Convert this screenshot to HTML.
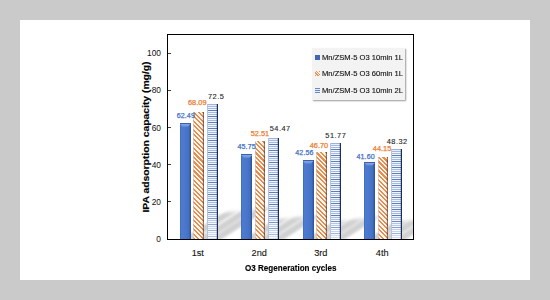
<!DOCTYPE html><html><head><meta charset="utf-8"><style>
*{margin:0;padding:0;box-sizing:border-box}
html,body{width:550px;height:300px;overflow:hidden;background:#cacaca;font-family:"Liberation Sans",sans-serif}
#card{position:absolute;left:20px;top:20px;width:510px;height:260px;background:#fff}
.a{position:absolute}
.t{position:absolute;white-space:nowrap;line-height:1}
.plot{position:absolute;left:167px;top:34px;width:247px;height:206px;border:1px solid #000}
.tick{position:absolute;left:168px;width:3px;height:1px;background:#444}
.yl{position:absolute;font-size:8.4px;color:#111;text-align:right;width:30px;line-height:1}
.bb{position:absolute;background:linear-gradient(90deg,#3a62b2 0,#4d7bd0 1px,#4a77ca 50%,#4370c2 80%,#2c4d92 100%);border-top:1px solid #3d5fa6}
.bb:before{content:"";position:absolute;left:0;right:0;top:0;height:3px;background:linear-gradient(180deg,#86a8ea,#6088d6);clip-path:polygon(0 0,100% 0,75% 100%,25% 100%)}
.ob{position:absolute;background:repeating-linear-gradient(45deg,#e98c4c 0,#e98c4c 1.5px,#fdf7f2 1.5px,#fdf7f2 3.2px);box-shadow:inset 1px 0 0 rgba(200,200,200,.6),inset -1.2px 0 0 rgba(80,55,40,.65)}
.hb{position:absolute;background:linear-gradient(180deg,rgba(255,255,255,0) 75%,rgba(255,255,255,.55) 100%),linear-gradient(180deg,#e8eef9 0,#e8eef9 2px,transparent 2px),repeating-linear-gradient(180deg,#5c7dc0 0,#5c7dc0 1px,transparent 1px,transparent 6px),repeating-linear-gradient(180deg,#a3b9e2 0,#a3b9e2 1px,#f1f5fc 1px,#f1f5fc 2px);box-shadow:inset 1px 0 0 #b7c3da,inset -1.2px 0 0 #1c2d58,inset 0 1px 0 #9fb3da}
.sh{position:absolute;background:#999;filter:blur(2px);opacity:.45;transform-origin:0 100%}
.lab{position:absolute;font-size:7.4px;line-height:1;white-space:nowrap;}
</style></head><body><div id="card"></div>
<div class="a" style="left:168px;top:35px;width:245px;height:204px;overflow:hidden">
<div class="sh" style="left:12.0px;top:177.3px;width:12px;height:28.7px;transform:skewX(-57deg)"></div>
<div class="sh" style="left:25.5px;top:174.9px;width:12px;height:31.1px;transform:skewX(-57deg)"></div>
<div class="sh" style="left:39.0px;top:173.0px;width:12px;height:33.0px;transform:skewX(-57deg)"></div>
<div class="sh" style="left:73.5px;top:184.4px;width:12px;height:21.6px;transform:skewX(-57deg)"></div>
<div class="sh" style="left:87.0px;top:181.5px;width:12px;height:24.5px;transform:skewX(-57deg)"></div>
<div class="sh" style="left:100.5px;top:180.7px;width:12px;height:25.3px;transform:skewX(-57deg)"></div>
<div class="sh" style="left:135.0px;top:185.8px;width:12px;height:20.2px;transform:skewX(-57deg)"></div>
<div class="sh" style="left:148.5px;top:184.0px;width:12px;height:22.0px;transform:skewX(-57deg)"></div>
<div class="sh" style="left:162.0px;top:181.9px;width:12px;height:24.1px;transform:skewX(-57deg)"></div>
<div class="sh" style="left:196.5px;top:186.2px;width:12px;height:19.8px;transform:skewX(-57deg)"></div>
<div class="sh" style="left:210.0px;top:185.1px;width:12px;height:20.9px;transform:skewX(-57deg)"></div>
<div class="sh" style="left:223.5px;top:183.3px;width:12px;height:22.7px;transform:skewX(-57deg)"></div>
</div>
<div class="plot"></div>
<div class="tick" style="top:201.3px"></div>
<div class="tick" style="top:164.1px"></div>
<div class="tick" style="top:126.9px"></div>
<div class="tick" style="top:89.7px"></div>
<div class="tick" style="top:52.5px"></div>
<div class="yl" style="left:131px;top:235.2px">0</div>
<div class="yl" style="left:131px;top:198.0px">20</div>
<div class="yl" style="left:131px;top:160.8px">40</div>
<div class="yl" style="left:131px;top:123.6px">60</div>
<div class="yl" style="left:131px;top:86.4px">80</div>
<div class="yl" style="left:131px;top:49.2px">100</div>
<div class="bb" style="left:179.8px;top:122.8px;width:10.8px;height:116.2px"></div>
<div class="ob" style="left:193.3px;top:112.4px;width:10.6px;height:126.6px"></div>
<div class="hb" style="left:206.7px;top:104.2px;width:11px;height:134.8px"></div>
<div class="bb" style="left:241.3px;top:153.9px;width:10.8px;height:85.1px"></div>
<div class="ob" style="left:254.8px;top:141.3px;width:10.6px;height:97.7px"></div>
<div class="hb" style="left:268.2px;top:137.7px;width:11px;height:101.3px"></div>
<div class="bb" style="left:302.8px;top:159.8px;width:10.8px;height:79.2px"></div>
<div class="ob" style="left:316.3px;top:152.1px;width:10.6px;height:86.9px"></div>
<div class="hb" style="left:329.7px;top:142.7px;width:11px;height:96.3px"></div>
<div class="bb" style="left:364.3px;top:161.6px;width:10.8px;height:77.4px"></div>
<div class="ob" style="left:377.8px;top:156.9px;width:10.6px;height:82.1px"></div>
<div class="hb" style="left:391.2px;top:149.1px;width:11px;height:89.9px"></div>
<div class="lab" style="left:176.7px;top:112.1px;color:#4472c4;-webkit-text-stroke:0.25px #4472c4;font-size:7.1px;letter-spacing:0.1px;margin-top:0.9px;">62.49</div>
<div class="lab" style="left:188.0px;top:99.4px;color:#ed7d31;-webkit-text-stroke:0.25px #ed7d31;">68.09</div>
<div class="lab" style="left:208.0px;top:92.8px;color:#222;letter-spacing:0.5px;-webkit-text-stroke:0.1px #222;">72.5</div>
<div class="lab" style="left:237.5px;top:143.3px;color:#4472c4;-webkit-text-stroke:0.25px #4472c4;font-size:7.1px;letter-spacing:0.1px;margin-top:0.9px;">45.75</div>
<div class="lab" style="left:250.7px;top:130.3px;color:#ed7d31;-webkit-text-stroke:0.25px #ed7d31;">52.51</div>
<div class="lab" style="left:269.7px;top:125.4px;color:#222;letter-spacing:0.5px;-webkit-text-stroke:0.1px #222;">54.47</div>
<div class="lab" style="left:295.3px;top:149.3px;color:#4472c4;-webkit-text-stroke:0.25px #4472c4;font-size:7.1px;letter-spacing:0.1px;margin-top:0.9px;">42.56</div>
<div class="lab" style="left:309.7px;top:142.4px;color:#ed7d31;-webkit-text-stroke:0.25px #ed7d31;">46.70</div>
<div class="lab" style="left:325.3px;top:131.6px;color:#222;letter-spacing:0.5px;-webkit-text-stroke:0.1px #222;">51.77</div>
<div class="lab" style="left:356.5px;top:153.0px;color:#4472c4;-webkit-text-stroke:0.25px #4472c4;font-size:7.1px;letter-spacing:0.1px;margin-top:0.9px;">41.60</div>
<div class="lab" style="left:372.8px;top:145.1px;color:#ed7d31;-webkit-text-stroke:0.25px #ed7d31;">44.15</div>
<div class="lab" style="left:386.7px;top:137.8px;color:#222;letter-spacing:0.5px;-webkit-text-stroke:0.1px #222;">48.32</div>
<div class="a" style="left:311.7px;top:48.3px;width:93.3px;height:51.7px;background:#f3f3f3;box-shadow:1px 1px 1.5px rgba(0,0,0,.4)"></div>
<div class="t" style="left:322px;top:53.6px;font-size:7.3px;color:#111;-webkit-text-stroke:0.12px #111;transform:scaleX(1.04);transform-origin:0 0">Mn/ZSM-5 O3 10min 1L</div>
<div class="t" style="left:322px;top:70.2px;font-size:7.3px;color:#111;-webkit-text-stroke:0.12px #111;transform:scaleX(1.04);transform-origin:0 0">Mn/ZSM-5 O3 60min 1L</div>
<div class="t" style="left:322px;top:86.9px;font-size:7.3px;color:#111;-webkit-text-stroke:0.12px #111;transform:scaleX(1.04);transform-origin:0 0">Mn/ZSM-5 O3 10min 2L</div>
<div class="a" style="left:315px;top:54.7px;width:4.5px;height:5px;background:#3f67b5"></div>
<div class="a" style="left:315px;top:71.3px;width:4.5px;height:5px;background:repeating-linear-gradient(45deg,#e9925a 0,#e9925a 0.9px,#fbeee4 0.9px,#fbeee4 2px)"></div>
<div class="a" style="left:315px;top:88px;width:4.5px;height:5px;background:repeating-linear-gradient(180deg,#6b8bc8 0,#6b8bc8 1px,#e3eaf6 1px,#e3eaf6 2px)"></div>
<div class="t" style="left:177.8px;width:40px;text-align:center;top:249.2px;font-size:9.2px;color:#111;-webkit-text-stroke:0.1px #111">1st</div>
<div class="t" style="left:239.2px;width:40px;text-align:center;top:249.2px;font-size:9.2px;color:#111;-webkit-text-stroke:0.1px #111">2nd</div>
<div class="t" style="left:300.8px;width:40px;text-align:center;top:249.2px;font-size:9.2px;color:#111;-webkit-text-stroke:0.1px #111">3rd</div>
<div class="t" style="left:362.2px;width:40px;text-align:center;top:249.2px;font-size:9.2px;color:#111;-webkit-text-stroke:0.1px #111">4th</div>
<div class="t" style="left:245px;top:263.5px;font-size:9.2px;font-weight:bold;color:#000;-webkit-text-stroke:0.15px #000;transform:scaleX(0.878);transform-origin:0 0">O3 Regeneration cycles</div>
<div class="t" style="left:146px;top:137px;font-size:9.4px;font-weight:bold;color:#000;-webkit-text-stroke:0.15px #000;transform:translate(-50%,-50%) rotate(-90deg) scaleX(1.103)">IPA adsorption capacity (mg/g)</div></body></html>
